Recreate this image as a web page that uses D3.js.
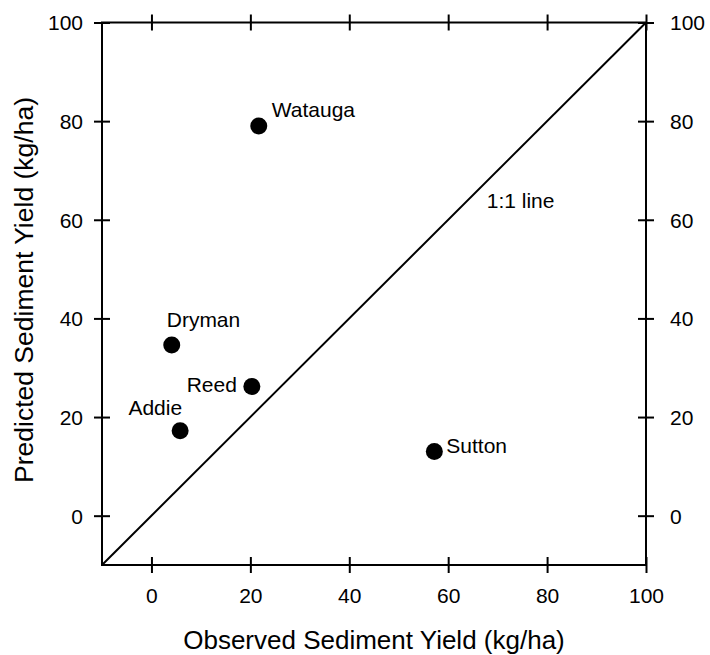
<!DOCTYPE html>
<html>
<head>
<meta charset="utf-8">
<script src="https://cdn.jsdelivr.net/npm/d3@7"></script>
<style>
  body { margin: 0; background: #fff; }
  text { font-family: "Liberation Sans", Arial, sans-serif; fill: #000; }
</style>
</head>
<body>
<script>
// watershed data
var sites = ["Watauga", "Dryman", "Reed", "Addie", "Sutton"];
var observed = [21.7, 4.1, 20.3, 5.8, 57.2];
var predicted = [79, 34.6, 26.2, 17.2, 13.0];
var tickValues = [0, 20, 40, 60, 80, 100];
var domain = [-10, 100];

// where each site label sits relative to its dot
var labelPlace = {
    Watauga: { dx: 13, dy: -9, anchor: "start" },
    Dryman: { dx: -5, dy: -18, anchor: "start" },
    Reed: { dx: -15, dy: 6, anchor: "end" },
    Addie: { dx: 2, dy: -16, anchor: "end" },
    Sutton: { dx: 12, dy: 1, anchor: "start" }
};

var width = 710, height = 655;
var plotLeft = 102, plotRight = 646, plotTop = 22.5, plotBottom = 565;

var svg = d3.select("body").append("svg")
    .attr("width", width)
    .attr("height", height);

var xScale = d3.scaleLinear().domain(domain).range([plotLeft, plotRight]);
var yScale = d3.scaleLinear().domain(domain).range([plotBottom, plotTop]);

// ticks cross the frame: 8px in, 8px out
function styleAxis(g, vertical) {
    g.select(".domain").remove();
    g.selectAll(".tick line")
        .attr("stroke", "#000")
        .attr("stroke-width", 2);
    if (vertical) {
        g.selectAll(".tick line").attr("x1", -8).attr("x2", 8);
    } else {
        g.selectAll(".tick line").attr("y1", -8).attr("y2", 8);
    }
    g.selectAll(".tick text")
        .attr("font-size", "21px")
        .attr("font-family", "Liberation Sans, Arial, sans-serif");
}

// bottom axis
var gx = svg.append("g")
    .attr("transform", "translate(0," + plotBottom + ")")
    .call(d3.axisBottom(xScale).tickValues(tickValues).tickSize(8));
styleAxis(gx, false);
gx.selectAll(".tick text").attr("y", 38).attr("dy", 0);

// top axis, ticks only
var gt = svg.append("g")
    .attr("transform", "translate(0," + plotTop + ")")
    .call(d3.axisTop(xScale).tickValues(tickValues).tickSize(8).tickFormat(""));
styleAxis(gt, false);

// left axis
var gy = svg.append("g")
    .attr("transform", "translate(" + plotLeft + ",0)")
    .call(d3.axisLeft(yScale).tickValues(tickValues).tickSize(8));
styleAxis(gy, true);
gy.selectAll(".tick text").attr("x", -19).attr("dy", "0.35em");

// right axis
var gr = svg.append("g")
    .attr("transform", "translate(" + plotRight + ",0)")
    .call(d3.axisRight(yScale).tickValues(tickValues).tickSize(8));
styleAxis(gr, true);
gr.selectAll(".tick text").attr("x", 24).attr("dy", "0.35em");

// frame
svg.append("rect")
    .attr("x", plotLeft)
    .attr("y", plotTop)
    .attr("width", plotRight - plotLeft)
    .attr("height", plotBottom - plotTop)
    .attr("fill", "none")
    .attr("stroke", "#000")
    .attr("stroke-width", 2);

// 1:1 line
svg.append("line")
    .attr("x1", xScale(domain[0]))
    .attr("y1", yScale(domain[0]))
    .attr("x2", xScale(domain[1]))
    .attr("y2", yScale(domain[1]))
    .attr("stroke", "#000")
    .attr("stroke-width", 2);

svg.append("text")
    .attr("x", xScale(67.8))
    .attr("y", yScale(62.4))
    .attr("font-size", "21px")
    .text("1:1 line");

var points = sites.map(function (s, i) {
    return { name: s, x: observed[i], y: predicted[i] };
});

svg.selectAll("circle.site")
    .data(points)
    .enter()
    .append("circle")
    .attr("class", "site")
    .attr("cx", function (d) { return xScale(d.x); })
    .attr("cy", function (d) { return yScale(d.y); })
    .attr("r", 8.5)
    .attr("fill", "#000");

svg.selectAll("text.site")
    .data(points)
    .enter()
    .append("text")
    .attr("class", "site")
    .attr("x", function (d) { return xScale(d.x) + labelPlace[d.name].dx; })
    .attr("y", function (d) { return yScale(d.y) + labelPlace[d.name].dy; })
    .attr("text-anchor", function (d) { return labelPlace[d.name].anchor; })
    .attr("font-size", "21px")
    .text(function (d) { return d.name; });

// axis titles
svg.append("text")
    .attr("x", (plotLeft + plotRight) / 2)
    .attr("y", 649)
    .attr("text-anchor", "middle")
    .attr("font-size", "26px")
    .text("Observed Sediment Yield (kg/ha)");

svg.append("text")
    .attr("transform", "translate(33,290) rotate(-90)")
    .attr("text-anchor", "middle")
    .attr("font-size", "26.5px")
    .text("Predicted Sediment Yield (kg/ha)");
</script>
</body>
</html>
